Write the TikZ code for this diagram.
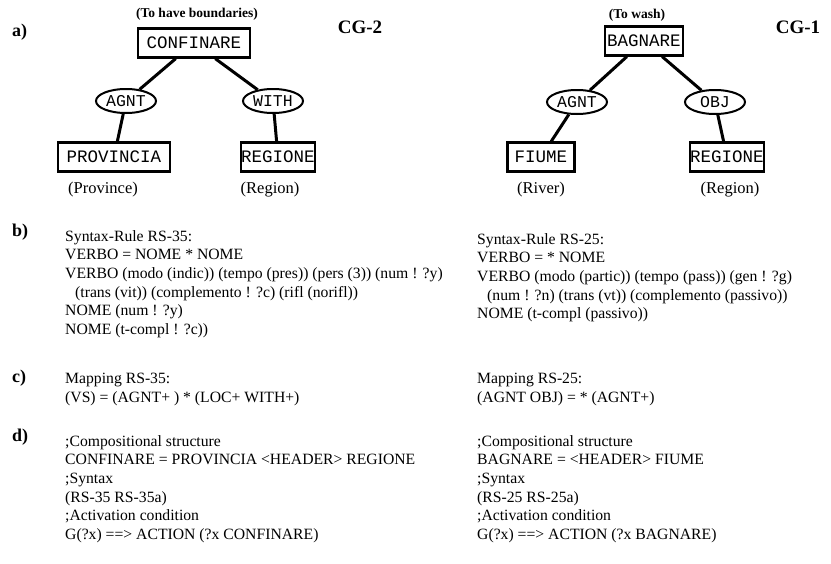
\documentclass[tikz,border=0pt]{standalone}
\usepackage{fontspec}
\setmainfont{Liberation Serif}
\newfontfamily\cgmono{Liberation Mono}
\usetikzlibrary{shapes.geometric}

\tikzset{
  cgbox/.style={draw, rectangle, line width=2.2pt, font=\cgmono\fontsize{17.5}{19}\selectfont,
    inner xsep=0.5pt, minimum height=29pt},
  cgrel/.style={draw, ellipse, line width=2pt, font=\cgmono\fontsize{16.5}{18}\selectfont,
    inner sep=0pt, minimum width=60pt, minimum height=24pt},
  link/.style={line width=3pt},
  gloss/.style={font=\fontsize{16.5}{18}\selectfont},
  cgtitle/.style={font=\bfseries\fontsize{19}{21}\selectfont},
  sectag/.style={font=\bfseries\fontsize{18}{20}\selectfont, anchor=west, inner sep=0pt},
  textblock/.style={align=left, anchor=north west, inner sep=0pt, font=\fontsize{15.7}{18.7}\selectfont},
}

\begin{document}
\begin{tikzpicture}[x=1pt, y=-1pt]
  \useasboundingbox (0,0) rectangle (831,563);

  \node[sectag] (a) at (12,32) {a)};
  \node[sectag] (b) at (12,232) {b)};
  \node[sectag] (c) at (12,378) {c)};
  \node[sectag] (d) at (12,437) {d)};

  % CG-2
  \node[gloss, font=\bfseries\fontsize{13.5}{15}\selectfont] (toconfinare) at (197,14) {(To have boundaries)};
  \node[cgbox, minimum width=112pt] (confinare) at (194,43) {CONFINARE};
  \node[cgtitle] (cgtwo) at (360,27) {CG-2};
  \node[cgrel] (agntl) at (126,101) {AGNT};
  \node[cgrel] (with) at (273,101) {WITH};
  \node[cgbox, minimum width=112pt] (provincia) at (114,157) {PROVINCIA};
  \node[cgbox, minimum width=70pt] (regionel) at (278,157) {REGIONE};
  \node[gloss] (province) at (103,190) {(Province)};
  \node[gloss] (regionl) at (270,190) {(Region)};

  \draw[link] (confinare) -- (agntl) -- (provincia);
  \draw[link] (confinare) -- (with) -- (regionel);

  % CG-1
  \node[gloss, font=\bfseries\fontsize{13.5}{15}\selectfont] (tobagnare) at (637,15) {(To wash)};
  \node[cgbox, minimum width=78pt] (bagnare) at (644,41) {BAGNARE};
  \node[cgtitle] (cgone) at (798,27) {CG-1};
  \node[cgrel] (agntr) at (577,102) {AGNT};
  \node[cgrel] (obj) at (715,102) {OBJ};
  \node[cgbox, minimum width=67pt] (fiume) at (541,157) {FIUME};
  \node[cgbox, minimum width=67pt] (regioner) at (727,157) {REGIONE};
  \node[gloss] (river) at (541,190) {(River)};
  \node[gloss] (regionr) at (730,190) {(Region)};

  \draw[link] (bagnare) -- (agntr) -- (fiume);
  \draw[link] (bagnare) -- (obj) -- (regioner);

  % rules
  \node[textblock] (rulel) at (65,230) {Syntax-Rule RS-35:\\
    VERBO = NOME * NOME\\
    VERBO (modo (indic)) (tempo (pres)) (pers (3)) (num ! ?y)\\
    \hspace*{10pt}(trans (vit)) (complemento ! ?c) (rifl (norifl))\\
    NOME (num ! ?y)\\
    NOME (t-compl ! ?c))};
  \node[textblock] (ruler) at (477,233) {Syntax-Rule RS-25:\\
    VERBO = * NOME\\
    VERBO (modo (partic)) (tempo (pass)) (gen ! ?g)\\
    \hspace*{10pt}(num ! ?n) (trans (vt)) (complemento (passivo))\\
    NOME (t-compl (passivo))};

  \node[textblock] (mapl) at (65,373) {Mapping RS-35:\\
    (VS) = (AGNT+ ) * (LOC+ WITH+)};
  \node[textblock] (mapr) at (477,373) {Mapping RS-25:\\
    (AGNT OBJ) = * (AGNT+)};

  \node[textblock] (defl) at (65,435) {;Compositional structure\\
    CONFINARE = PROVINCIA <HEADER> REGIONE\\
    ;Syntax\\
    (RS-35 RS-35a)\\
    ;Activation condition\\
    G(?x) ==> ACTION (?x CONFINARE)};
  \node[textblock] (defr) at (477,435) {;Compositional structure\\
    BAGNARE = <HEADER> FIUME\\
    ;Syntax\\
    (RS-25 RS-25a)\\
    ;Activation condition\\
    G(?x) ==> ACTION (?x BAGNARE)};
\end{tikzpicture}
\end{document}
